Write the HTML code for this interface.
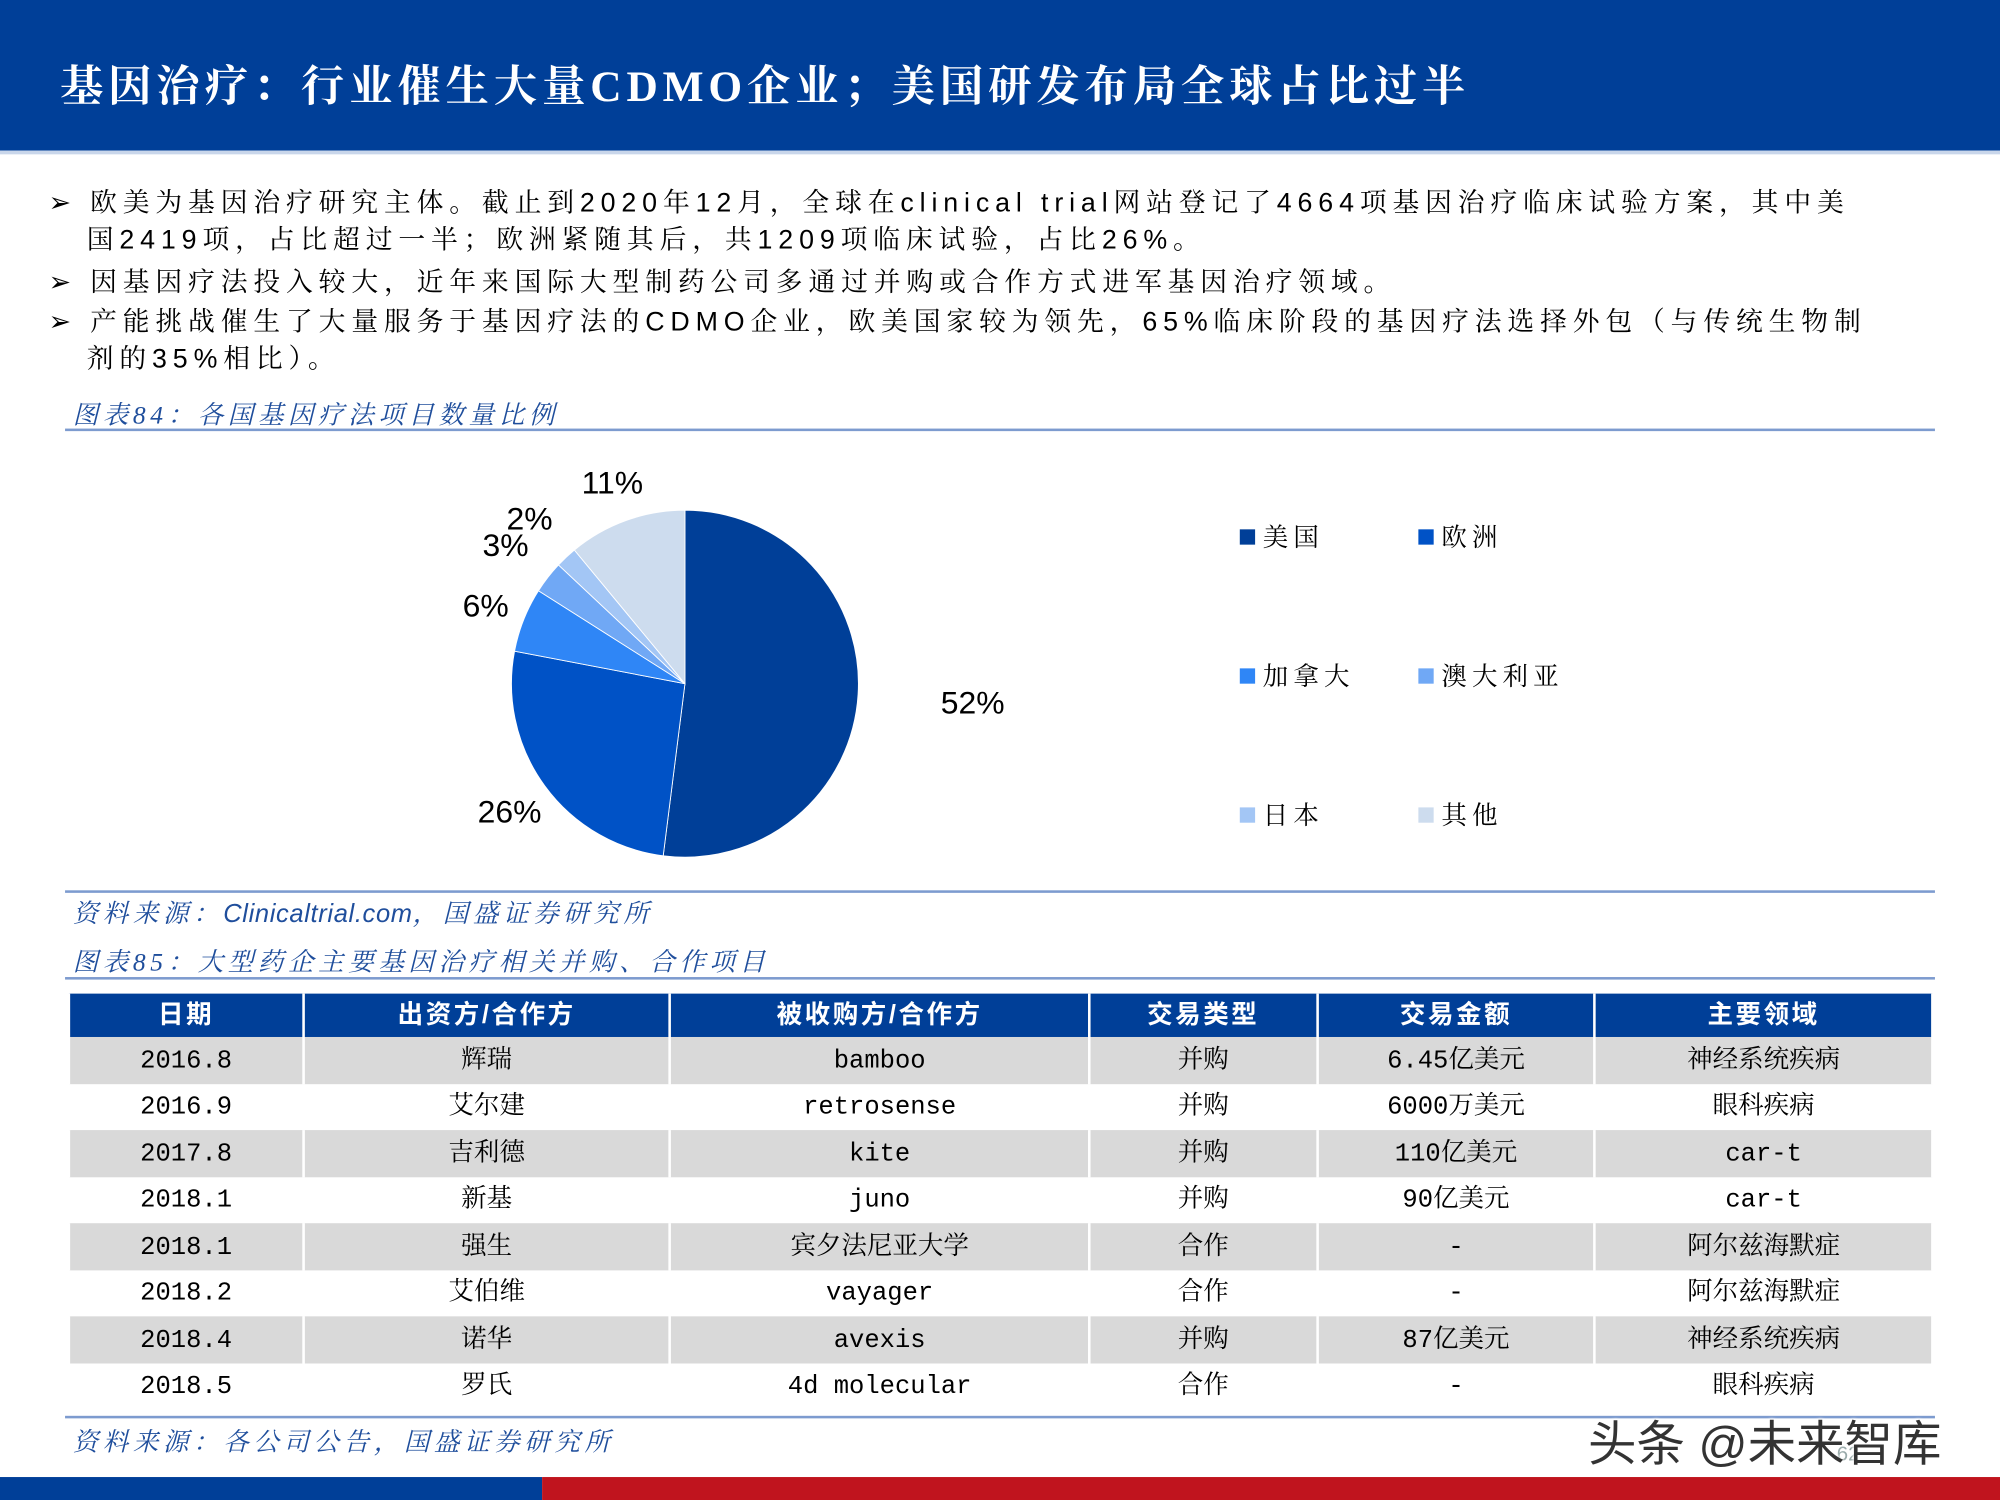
<!DOCTYPE html>
<html><head><meta charset="utf-8">
<style>
html,body{margin:0;padding:0;width:2000px;height:1500px;overflow:hidden;background:#fff}
#wrap{position:absolute;left:0;top:0;width:1568px;height:1176px;transform:scale(1.27551);transform-origin:0 0;font-family:"Liberation Sans","Noto Sans CJK SC",sans-serif;color:#000}
.abs{position:absolute;white-space:nowrap}
.serif{font-family:"Liberation Serif","Noto Serif CJK SC",serif}
.bul{font-size:21px;left:38px;letter-spacing:4.6px;font-family:"Liberation Sans","Noto Serif CJK SC",serif}
.cap{font-style:italic;color:#1f4e9c;font-size:20px;left:57px;letter-spacing:3.6px;font-family:"Liberation Serif","Noto Serif CJK SC",serif}
.rule{position:absolute;left:51px;width:1466px;height:2px;background:#7d9bcf}
table{position:absolute;left:53px;top:779px;width:1463px;border-collapse:collapse;font-size:20px;font-family:"Liberation Mono","Noto Serif CJK SC",serif}
td,th{text-align:center;vertical-align:middle;height:33.5px;padding:3px 0 0 0;line-height:22px;border-left:2px solid #fff;border-right:2px solid #fff}
th{background:#003f98;color:#fff;font-weight:bold;height:34px;padding:0;font-family:"Liberation Sans","Noto Sans CJK SC",sans-serif;letter-spacing:2px}
tr.g td{background:#d9d9d9}
.lg{position:absolute;font-size:20px;letter-spacing:4px;font-family:"Liberation Serif","Noto Serif CJK SC",serif}
.lg span{display:inline-block;width:12px;height:12px;margin-right:6px;vertical-align:1px}
</style></head><body>
<div id="wrap">
<div class="abs" style="left:0;top:0;width:1568px;height:118px;background:#003f98"></div>
<div class="abs" style="left:0;top:118px;width:1568px;height:3px;background:#c9d6ea"></div>
<div class="abs serif" style="left:47px;top:40px;font-size:34px;color:#fff;letter-spacing:3.8px;font-weight:bold">基因治疗：行业催生大量CDMO企业；美国研发布局全球占比过半</div>

<div class="abs bul" style="top:143px">➢ 欧美为基因治疗研究主体。截止到2020年12月，全球在clinical trial网站登记了4664项基因治疗临床试验方案，其中美</div>
<div class="abs bul" style="top:172px;left:68px">国2419项，占比超过一半；欧洲紧随其后，共1209项临床试验，占比26%。</div>
<div class="abs bul" style="top:205px">➢ 因基因疗法投入较大，近年来国际大型制药公司多通过并购或合作方式进军基因治疗领域。</div>
<div class="abs bul" style="top:236px">➢ 产能挑战催生了大量服务于基因疗法的CDMO企业，欧美国家较为领先，65%临床阶段的基因疗法选择外包（与传统生物制</div>
<div class="abs bul" style="top:265px;left:68px">剂的35%相比）。</div>

<div class="abs cap" style="top:309px">图表84：各国基因疗法项目数量比例</div>
<div class="rule" style="top:336px"></div>

<svg class="abs" id="pie" style="left:0;top:340px" width="1568" height="360"></svg>

<div class="lg" style="left:972px;top:405px"><span style="background:#003f98"></span>美国</div>
<div class="lg" style="left:1112px;top:405px"><span style="background:#0052c6"></span>欧洲</div>
<div class="lg" style="left:972px;top:514px"><span style="background:#2f86f6"></span>加拿大</div>
<div class="lg" style="left:1112px;top:514px"><span style="background:#70a8f5"></span>澳大利亚</div>
<div class="lg" style="left:972px;top:623px"><span style="background:#a3c6f5"></span>日本</div>
<div class="lg" style="left:1112px;top:623px"><span style="background:#cddcee"></span>其他</div>

<div class="rule" style="top:698px"></div>
<div class="abs cap" style="top:700px">资料来源：<span style="font-family:'Liberation Sans',sans-serif;letter-spacing:0.5px">Clinicaltrial.com</span>，国盛证券研究所</div>
<div class="abs cap" style="top:738px">图表85：大型药企主要基因治疗相关并购、合作项目</div>
<div class="rule" style="top:766px"></div>

<table>
<colgroup><col style="width:184px"><col style="width:288px"><col style="width:329px"><col style="width:179px"><col style="width:218px"><col style="width:265px"></colgroup>
<tr><th>日期</th><th>出资方/合作方</th><th>被收购方/合作方</th><th>交易类型</th><th>交易金额</th><th>主要领域</th></tr>
<tr class="g"><td>2016.8</td><td>辉瑞</td><td>bamboo</td><td>并购</td><td>6.45亿美元</td><td>神经系统疾病</td></tr>
<tr><td>2016.9</td><td>艾尔建</td><td>retrosense</td><td>并购</td><td>6000万美元</td><td>眼科疾病</td></tr>
<tr class="g"><td>2017.8</td><td>吉利德</td><td>kite</td><td>并购</td><td>110亿美元</td><td>car-t</td></tr>
<tr><td>2018.1</td><td>新基</td><td>juno</td><td>并购</td><td>90亿美元</td><td>car-t</td></tr>
<tr class="g"><td>2018.1</td><td>强生</td><td>宾夕法尼亚大学</td><td>合作</td><td>-</td><td>阿尔兹海默症</td></tr>
<tr><td>2018.2</td><td>艾伯维</td><td>vayager</td><td>合作</td><td>-</td><td>阿尔兹海默症</td></tr>
<tr class="g"><td>2018.4</td><td>诺华</td><td>avexis</td><td>并购</td><td>87亿美元</td><td>神经系统疾病</td></tr>
<tr><td>2018.5</td><td>罗氏</td><td>4d molecular</td><td>合作</td><td>-</td><td>眼科疾病</td></tr>
</table>

<div class="rule" style="top:1110px"></div>
<div class="abs cap" style="top:1114px">资料来源：各公司公告，国盛证券研究所</div>
<div class="abs" style="left:1440px;top:1132px;font-size:16px;color:#9aa">62</div>
<div class="abs" style="left:1245px;top:1101px;font-size:38px;color:#333;text-shadow:0 0 3px #fff,0 0 3px #fff">头条 @未来智库</div>

<div class="abs" style="left:0;top:1158px;width:425px;height:18px;background:#003f98"></div>
<div class="abs" style="left:425px;top:1158px;width:1143px;height:18px;background:#c0141e"></div>
</div>
<script>
const categories = ["美国","欧洲","加拿大","澳大利亚","日本","其他"];
const shares = [52, 26, 6, 3, 2, 11];
const labels = ["52%","26%","6%","3%","2%","11%"];
const colors = ["#003f98","#0052c6","#2f86f6","#70a8f5","#a3c6f5","#cddcee"];
const svg = document.getElementById('pie');
const NS = 'http://www.w3.org/2000/svg';
const cx = 537, cy = 196, r = 136;
const total = shares.reduce((a,b)=>a+b,0);
function pt(frac, rad){ const a = frac*2*Math.PI - Math.PI/2; return [cx+rad*Math.cos(a), cy+rad*Math.sin(a)]; }
let acc = 0;
shares.forEach((v,i)=>{
  const f0 = acc/total, f1 = (acc+v)/total; acc += v;
  const [x0,y0] = pt(f0,r), [x1,y1] = pt(f1,r);
  const p = document.createElementNS(NS,'path');
  p.setAttribute('d',`M${cx},${cy} L${x0},${y0} A${r},${r} 0 ${f1-f0>0.5?1:0} 1 ${x1},${y1} Z`);
  p.setAttribute('fill',colors[i]);
  p.setAttribute('stroke','#fff');
  p.setAttribute('stroke-width','0.7');
  
  
  svg.appendChild(p);
  const fm = (f0+f1)/2;
  const lr = v>=40 ? r+90 : (v>=20 ? r+34 : (v<5 ? r+42 : r+32));
  const [lx,ly] = pt(fm, lr);
  const t = document.createElementNS(NS,'text');
  t.setAttribute('x',lx); t.setAttribute('y',ly+9);
  t.setAttribute('text-anchor','middle');
  t.setAttribute('font-size','25');
  t.setAttribute('font-family','Liberation Sans, sans-serif');
  t.textContent = labels[i];
  
  
  svg.appendChild(t);
});
</script>
</body></html>
